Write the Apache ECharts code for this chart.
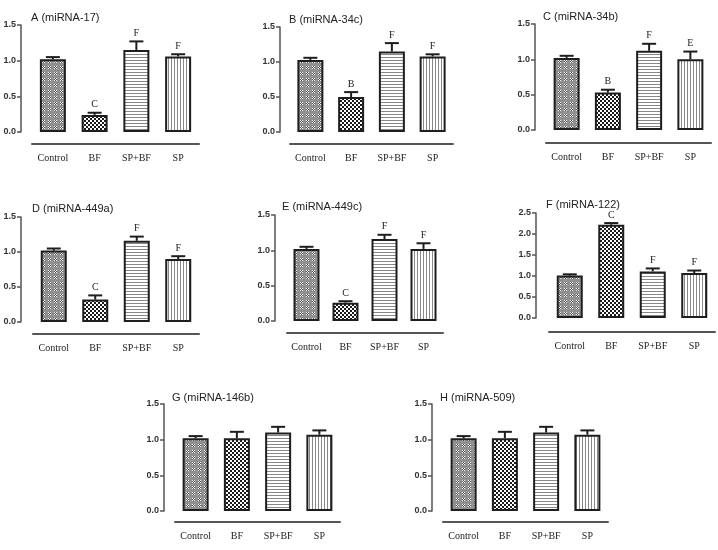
<!DOCTYPE html>
<html>
<head>
<meta charset="utf-8">
<script src="https://cdn.jsdelivr.net/npm/echarts@6/dist/echarts.min.js"></script>
<style>
html,body{margin:0;padding:0;background:#fff;}
#chart{width:718px;height:550px;}
</style>
</head>
<body>
<div id="chart"></div>
<script>
// ---- data ----
const categories = ['Control', 'BF', 'SP+BF', 'SP'];
const titles = ['A (miRNA-17)', 'B (miRNA-34c)', 'C (miRNA-34b)', 'D (miRNA-449a)', 'E (miRNA-449c)', 'F (miRNA-122)', 'G (miRNA-146b)', 'H (miRNA-509)'];
const meansA = [1.02, 0.24, 1.15, 1.06];
const errsA  = [0.03, 0.03, 0.12, 0.03];
const lettersA = ['', 'C', 'F', 'F'];
const meansB = [1.03, 0.50, 1.15, 1.08];
const errsB  = [0.03, 0.07, 0.12, 0.03];
const lettersB = ['', 'B', 'F', 'F'];
const meansC = [1.02, 0.53, 1.12, 1.00];
const errsC  = [0.03, 0.04, 0.10, 0.11];
const lettersC = ['', 'B', 'F', 'E'];
const meansD = [1.02, 0.32, 1.16, 0.90];
const errsD  = [0.03, 0.06, 0.06, 0.04];
const lettersD = ['', 'C', 'F', 'F'];
const meansE = [1.02, 0.26, 1.16, 1.02];
const errsE  = [0.03, 0.02, 0.06, 0.08];
const lettersE = ['', 'C', 'F', 'F'];
const meansF = [1.01, 2.22, 1.11, 1.07];
const errsF  = [0.03, 0.04, 0.07, 0.06];
const lettersF = ['', 'C', 'F', 'F'];
const meansG = [1.02, 1.02, 1.10, 1.07];
const errsG  = [0.03, 0.09, 0.08, 0.06];
const lettersG = ['', '', '', ''];
const meansH = [1.02, 1.02, 1.10, 1.07];
const errsH  = [0.03, 0.09, 0.08, 0.06];
const lettersH = ['', '', '', ''];
const yMaxes = [1.5, 1.5, 1.5, 1.5, 1.5, 2.5, 1.5, 1.5];

const panelMeans = [meansA, meansB, meansC, meansD, meansE, meansF, meansG, meansH];
const panelErrs = [errsA, errsB, errsC, errsD, errsE, errsF, errsG, errsH];
const panelLetters = [lettersA, lettersB, lettersC, lettersD, lettersE, lettersF, lettersG, lettersH];

// ---- layout (pixels) ----
const layout = [
  {yx: 21,  top: 25,  zero: 132, xline: 144, x0: 32,  x1: 199, tx: 26,  ty: 7},
  {yx: 280, top: 27,  zero: 132, xline: 144, x0: 290, x1: 453, tx: 284, ty: 9},
  {yx: 535, top: 24,  zero: 130, xline: 143, x0: 546, x1: 711, tx: 538, ty: 6},
  {yx: 21,  top: 217, zero: 322, xline: 334, x0: 33,  x1: 199, tx: 27,  ty: 198},
  {yx: 275, top: 215, zero: 321, xline: 333, x0: 287, x1: 443, tx: 277, ty: 196},
  {yx: 536, top: 213, zero: 318, xline: 332, x0: 549, x1: 715, tx: 541, ty: 194},
  {yx: 164, top: 404, zero: 511, xline: 522, x0: 175, x1: 340, tx: 167, ty: 387},
  {yx: 432, top: 404, zero: 511, xline: 522, x0: 443, x1: 608, tx: 435, ty: 387}
];

// ---- fill patterns ----
function makeCanvas(w, h, draw) {
  const c = document.createElement('canvas');
  c.width = w; c.height = h;
  const ctx = c.getContext('2d');
  draw(ctx);
  return c;
}
const patControl = makeCanvas(6, 6, ctx => {
  ctx.fillStyle = '#909090'; ctx.fillRect(0, 0, 6, 6);
  for (let i = 0; i < 3; i++) for (let j = 0; j < 3; j++) {
    ctx.fillStyle = ((i + j) % 2 === 0) ? '#f2f2f2' : '#555555';
    ctx.fillRect(i, j, 1, 1);
  }
});
const patBF = makeCanvas(4, 4, ctx => {
  ctx.fillStyle = '#ffffff'; ctx.fillRect(0, 0, 4, 4);
  ctx.fillStyle = '#1a1a1a';
  ctx.fillRect(0, 0, 2, 2); ctx.fillRect(2, 2, 2, 2);
});
const patSPBF = makeCanvas(3, 3, ctx => {
  ctx.fillStyle = '#ffffff'; ctx.fillRect(0, 0, 3, 3);
  ctx.fillStyle = '#888888'; ctx.fillRect(0, 0, 3, 1);
});
const patSP = makeCanvas(3, 3, ctx => {
  ctx.fillStyle = '#ffffff'; ctx.fillRect(0, 0, 3, 3);
  ctx.fillStyle = '#888888'; ctx.fillRect(0, 0, 1, 3);
});
const patterns = [patControl, patBF, patSPBF, patSP];

const W = 718, H = 550;
const grids = [], xAxes = [], yAxes = [], series = [], titleOpts = [];

layout.forEach((L, p) => {
  grids.push({left: L.x0, width: L.x1 - L.x0, top: L.top, height: L.zero - L.top, containLabel: false});
  titleOpts.push({
    text: titles[p], left: L.tx, top: L.ty,
    textStyle: {fontFamily: 'Liberation Sans', fontSize: 11, fontWeight: 'normal', color: '#222'}
  });
  xAxes.push({
    type: 'category', gridIndex: p, data: categories, offset: L.xline - L.zero,
    axisLine: {onZero: false, lineStyle: {color: '#555', width: 2}},
    axisTick: {alignWithLabel: true, interval: 0, length: 3, lineStyle: {color: '#555', width: 1.5}},
    axisLabel: {interval: 0, hideOverlap: false, fontFamily: 'Liberation Serif', fontSize: 10, color: '#222', margin: 9}
  });
  yAxes.push({
    type: 'value', gridIndex: p, min: 0, max: yMaxes[p], interval: 0.5,
    offset: L.x0 - L.yx,
    splitLine: {show: false},
    axisLine: {show: true, onZero: false, lineStyle: {color: '#555', width: 1.5}},
    axisTick: {show: true, length: 4, lineStyle: {color: '#555', width: 1.5}},
    axisLabel: {fontFamily: 'Liberation Sans', fontSize: 9, fontWeight: 'bold', color: '#333', margin: 5,
                formatter: v => v.toFixed(1)}
  });
  const means = panelMeans[p], errs = panelErrs[p], letters = panelLetters[p];
  series.push({
    type: 'bar', xAxisIndex: p, yAxisIndex: p, barWidth: 26, silent: true,
    data: means.map((v, i) => ({
      value: v,
      itemStyle: {color: {image: patterns[i], repeat: 'repeat'}, borderColor: '#1e1e1e', borderWidth: 2}
    })),
    z: 2
  });
  series.push({
    type: 'custom', xAxisIndex: p, yAxisIndex: p, silent: true, z: 5,
    data: means.map((v, i) => [i, v, errs[i]]),
    encode: {x: 0, y: 1},
    renderItem: function (params, api) {
      const i = api.value(0), v = api.value(1), e = api.value(2);
      const a = api.coord([i, v]);
      const b = api.coord([i, v + e]);
      const letter = letters[params.dataIndex];
      const children = [
        {type: 'line', shape: {x1: a[0], y1: a[1], x2: b[0], y2: b[1]}, style: {stroke: '#1e1e1e', lineWidth: 2}},
        {type: 'line', shape: {x1: b[0] - 7, y1: b[1], x2: b[0] + 7, y2: b[1]}, style: {stroke: '#1e1e1e', lineWidth: 2}}
      ];
      if (letter) {
        children.push({type: 'text', x: b[0], y: b[1] - 3,
          style: {text: letter, fontFamily: 'Liberation Serif', fontSize: 10, fill: '#222', align: 'center', verticalAlign: 'bottom'}});
      }
      return {type: 'group', children: children};
    }
  });
});

const chart = echarts.init(document.getElementById('chart'), null, {renderer: 'canvas', width: W, height: H});
chart.setOption({
  animation: false,
  backgroundColor: '#fff',
  title: titleOpts,
  grid: grids,
  xAxis: xAxes,
  yAxis: yAxes,
  series: series
});
</script>
</body>
</html>
